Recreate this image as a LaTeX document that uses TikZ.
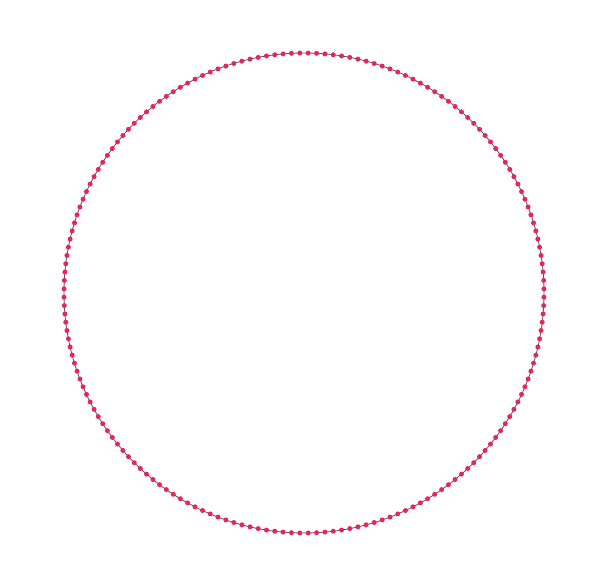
\documentclass[tikz,border=0pt]{standalone}
\usetikzlibrary{calc}
\definecolor{dotred}{HTML}{E8245A}
\definecolor{ringgray}{HTML}{555555}
\tikzset{ringdot/.style={circle,fill=dotred,inner sep=0pt,minimum size=5pt}}
\begin{document}
\begin{tikzpicture}[x=1pt,y=1pt]
\useasboundingbox (0,0) rectangle (610,588);
\coordinate (c) at (304,295);
\draw[ringgray,line width=0.8pt] (c) circle[radius=240];
\foreach \k in {0,...,179}{
  \node[ringdot] (d\k) at ($(c)+({2*\k+1}:240)$) {};
}
\end{tikzpicture}
\end{document}
